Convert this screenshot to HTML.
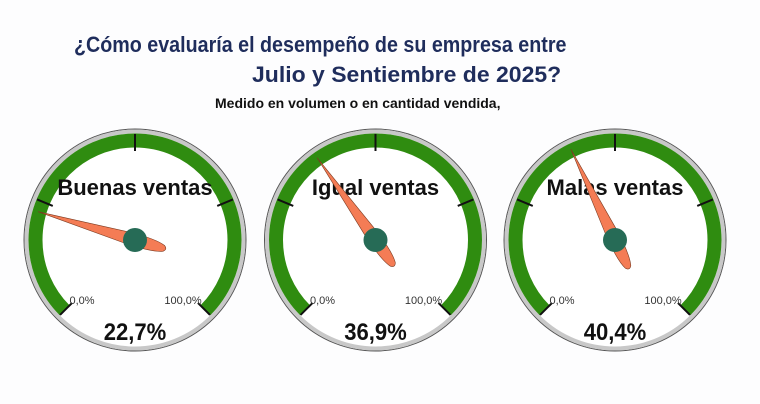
<!DOCTYPE html>
<html><head><meta charset="utf-8"><style>
html,body{margin:0;padding:0;background:#fdfdfe;}
body{width:760px;height:404px;overflow:hidden;position:relative;font-family:"Liberation Sans",sans-serif;}
.t{position:absolute;white-space:nowrap;color:#1f2d5c;font-size:22px;font-weight:bold;transform-origin:0 0;}
</style></head><body>
<div class="t" style="left:74px;top:32px;transform:scaleX(0.895);">¿Cómo evaluaría el desempeño de su empresa entre</div>
<div class="t" style="left:252px;top:62px;transform:scaleX(1.045);">Julio y Sentiembre de 2025?</div>
<div style="position:absolute;left:215px;top:95px;font-size:14px;font-weight:bold;color:#111;white-space:nowrap;">Medido en volumen o en cantidad vendida,</div>
<svg width="760" height="404" style="position:absolute;left:0;top:0" id="s"></svg>
<script>
var s=document.getElementById('s'),h='';
var G=[[135,'Buenas ventas',22.7,'22,7%'],[375.5,'Igual ventas',36.9,'36,9%'],[615,'Malas ventas',40.4,'40,4%']];
var cy=240;
function P(cx,a,r){var t=a*Math.PI/180;return [cx+r*Math.sin(t),cy-r*Math.cos(t)];}
G.forEach(function(g){
 var cx=g[0];
 h+='<circle cx="'+cx+'" cy="'+cy+'" r="111" fill="#fff" stroke="#555" stroke-width="1"/>';
 h+='<circle cx="'+cx+'" cy="'+cy+'" r="108.5" fill="none" stroke="#c8c8c8" stroke-width="4"/>';
 var a=P(cx,-135,99.5),b=P(cx,135,99.5);
 h+='<path d="M'+a[0]+' '+a[1]+' A99.5 99.5 0 1 1 '+b[0]+' '+b[1]+'" fill="none" stroke="#2f8c10" stroke-width="14"/>';
 [-135,-67.5,0,67.5,135].forEach(function(t){var p=P(cx,t,106),q=P(cx,t,89);h+='<line x1="'+p[0]+'" y1="'+p[1]+'" x2="'+q[0]+'" y2="'+q[1]+'" stroke="#111" stroke-width="2"/>';});
 h+='<text x="'+(cx-53)+'" y="304" font-size="11" fill="#333" text-anchor="middle">0,0%</text>';
 h+='<text x="'+(cx+48)+'" y="304" font-size="11" fill="#333" text-anchor="middle">100,0%</text>';
 h+='<text x="'+cx+'" y="195" font-size="22" font-weight="bold" fill="#111" text-anchor="middle">'+g[1]+'</text>';
 h+='<text x="'+cx+'" y="340" font-size="24" font-weight="bold" fill="#111" text-anchor="middle" transform="translate('+cx+',0) scale(0.92,1) translate('+(-cx)+',0)">'+g[3]+'</text>';
 var ang=-135+g[2]*2.7;
 h+='<g transform="translate('+cx+','+cy+') rotate('+ang+')"><path d="M0 -101 L6 -8 Q7 20 3 30 Q0 34 -3 30 Q-7 20 -6 -8 Z" fill="#f47c55" stroke="#7a3a20" stroke-width="0.6"/></g>';
 h+='<circle cx="'+cx+'" cy="'+cy+'" r="12" fill="#266b56"/>';
});
s.innerHTML=h;
</script>
</body></html>
